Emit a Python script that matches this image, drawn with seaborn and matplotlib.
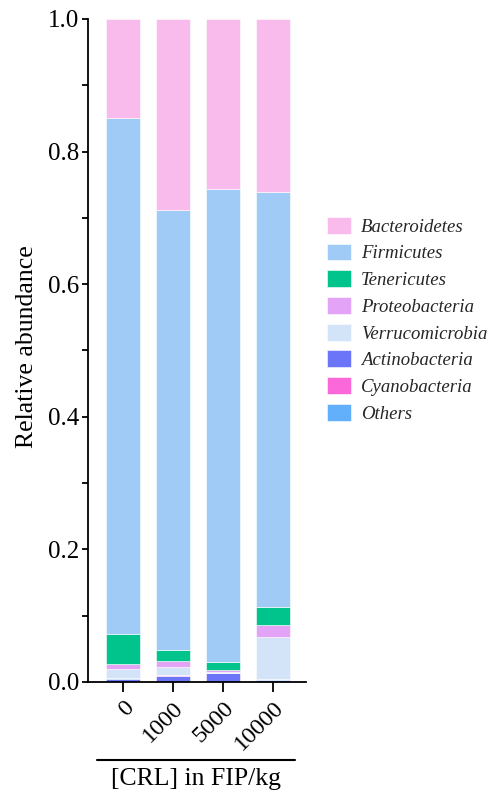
import numpy as np
import pandas as pd
import matplotlib
matplotlib.use("Agg")
import matplotlib.pyplot as plt
from matplotlib.patches import Patch
from matplotlib.lines import Line2D
from matplotlib.ticker import MultipleLocator
import seaborn as sns

# Dose groups (CRL concentration, FIP/kg)
doses = ["0", "1000", "5000", "10000"]

# Relative abundance of each phylum per dose group, bottom of the stack first
actinobacteria  = [0.0050, 0.0092, 0.0136, 0.0030]
others          = [0.0006, 0.0004, 0.0004, 0.0008]
cyanobacteria   = [0.0004, 0.0004, 0.0002, 0.0002]
verrucomicrobia = [0.0135, 0.0125, 0.0012, 0.0633]
proteobacteria  = [0.0072, 0.0092, 0.0024, 0.0185]
tenericutes     = [0.0463, 0.0163, 0.0119, 0.0276]
firmicutes      = [0.7770, 0.6640, 0.7143, 0.6256]
bacteroidetes   = [0.1500, 0.2880, 0.2560, 0.2610]

stack_order = [
    ("Actinobacteria", actinobacteria, "#6C74F8"),
    ("Others", others, "#62AFFB"),
    ("Cyanobacteria", cyanobacteria, "#FA68DA"),
    ("Verrucomicrobia", verrucomicrobia, "#D3E3F8"),
    ("Proteobacteria", proteobacteria, "#E3A4F8"),
    ("Tenericutes", tenericutes, "#00C48B"),
    ("Firmicutes", firmicutes, "#A1CBF7"),
    ("Bacteroidetes", bacteroidetes, "#F8BBEB"),
]
legend_order = ["Bacteroidetes", "Firmicutes", "Tenericutes", "Proteobacteria",
                "Verrucomicrobia", "Actinobacteria", "Cyanobacteria", "Others"]

sns.set_theme(style="ticks")
plt.rcParams["font.family"] = ["Liberation Serif", "DejaVu Serif"]
plt.rcParams["axes.linewidth"] = 1.3

fig = plt.figure(figsize=(4.92, 7.95), dpi=100)
ax = fig.add_axes([88 / 492, 1 - 682 / 795, 218 / 492, 663 / 795])

cum = np.zeros(len(doses))
colors = {}
for name, vals, col in stack_order:
    df = pd.DataFrame({"dose": doses, "value": vals})
    sns.barplot(data=df, x="dose", y="value", order=doses, color=col,
                bottom=cum.copy(), width=0.67, errorbar=None, ax=ax,
                edgecolor="white", linewidth=0.4, saturation=1)
    cum += np.array(vals)
    colors[name] = col

ax.set_xlim(-0.70, 3.66)
ax.set_ylim(0, 1.0)
ax.yaxis.set_major_locator(MultipleLocator(0.2))
ax.yaxis.set_minor_locator(MultipleLocator(0.1))
ax.set_yticklabels([f"{v:.1f}" for v in ax.get_yticks()])
ax.tick_params(axis="y", which="major", length=4.5, width=1.3, labelsize=18,
               color="black", labelcolor="black", pad=2)
ax.tick_params(axis="y", which="minor", length=4.5, width=1.3, color="black", left=True)
ax.tick_params(axis="x", which="major", length=7, width=1.3, labelsize=17.5,
               color="black", labelcolor="black", pad=4)
ax.set_xticks(range(len(doses)))
ax.set_xticklabels(doses, rotation=45, ha="right", rotation_mode="anchor")
ax.set_xlabel("")
ax.set_ylabel("")
sns.despine(ax=ax)
ax.spines["left"].set_color("black")
ax.spines["bottom"].set_color("black")

fig.text(27 / 492, 1 - 347 / 795, "Relative abundance", rotation=90,
         ha="center", va="center", fontsize=18.5, color="black")
fig.add_artist(Line2D([97 / 492, 295 / 492], [1 - 760 / 795, 1 - 760 / 795],
                      color="black", linewidth=1.5, transform=fig.transFigure))
fig.text(196 / 492, 1 - 779 / 795, "[CRL] in FIP/kg", ha="center", va="center",
         fontsize=18.5, color="black")

handles = [Patch(facecolor=colors[n], edgecolor="white", linewidth=0.4) for n in legend_order]
fig.legend(handles, legend_order, loc="upper left",
           bbox_to_anchor=(327 / 492, 1 - 217 / 795), bbox_transform=fig.transFigure,
           frameon=False, borderpad=0, borderaxespad=0,
           prop={"family": "Liberation Serif", "style": "italic", "size": 13.5},
           handlelength=1.28, handleheight=1.0, handletextpad=0.53, labelspacing=0.42)

fig.savefig("out.png", dpi=100, facecolor="white")
